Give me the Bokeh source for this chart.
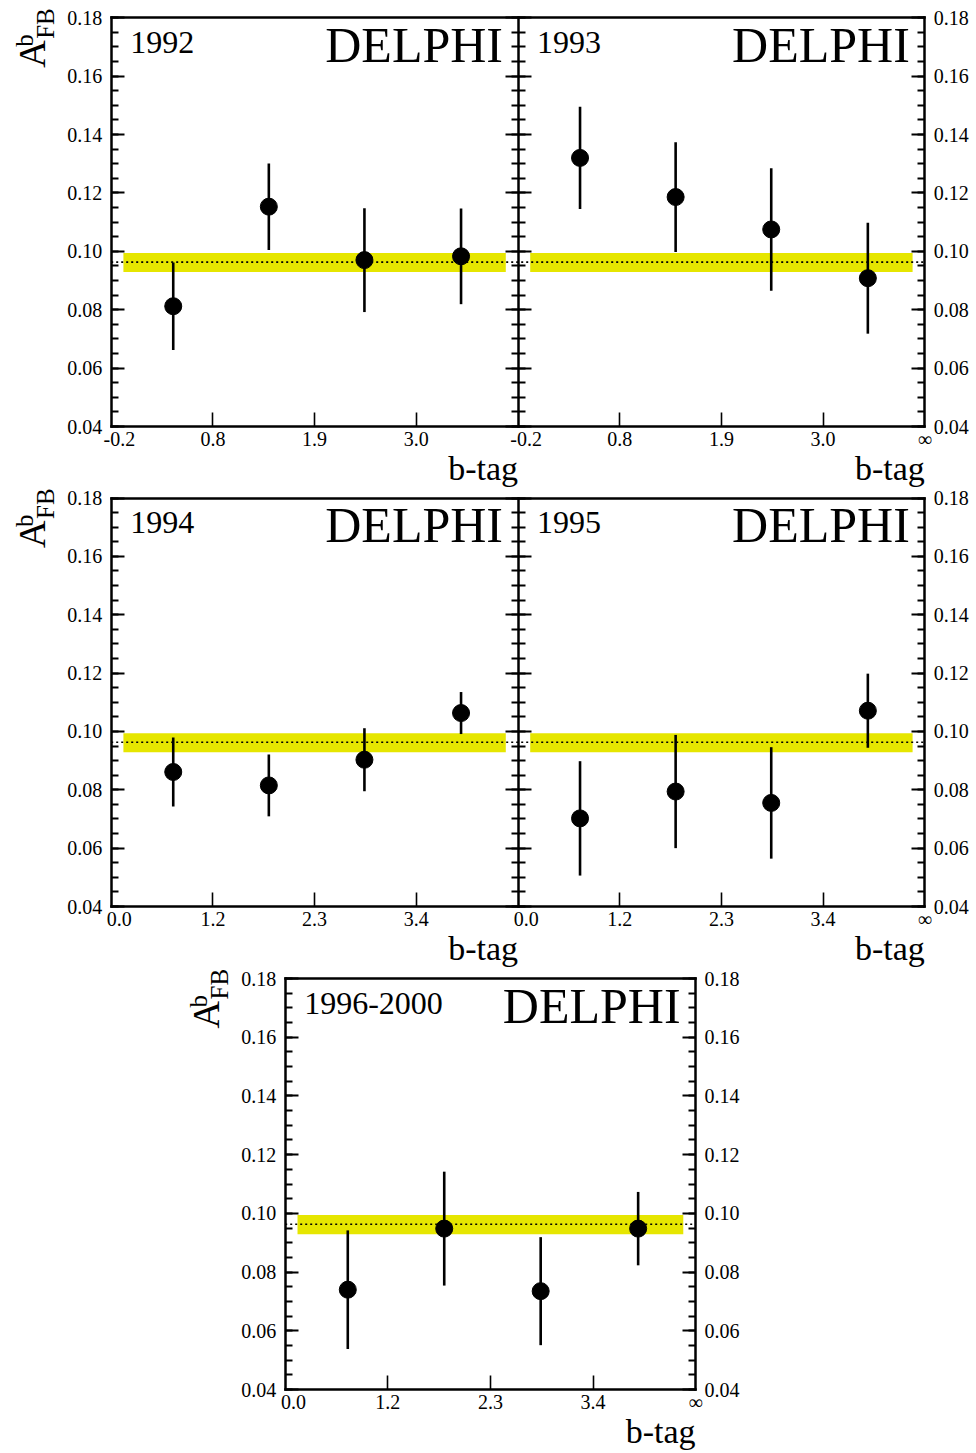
import math
from bokeh.plotting import figure
from bokeh.models import (Range1d, LinearAxis, FixedTicker, Label,
                          NumeralTickFormatter, CustomJSTickFormatter)
from bokeh.layouts import column
from bokeh.embed import file_html
from bokeh.resources import INLINE

# ---------------- data ----------------
bin_pos = [0.61, 1.55, 2.49, 3.44]          # point position inside the 4 b-tag bins

afb_1992 = [0.0812, 0.1153, 0.0970, 0.0983]
err_1992 = [0.0150, 0.0148, 0.0178, 0.0164]
afb_1993 = [0.1320, 0.1186, 0.1075, 0.0908]
err_1993 = [0.0175, 0.0188, 0.0210, 0.0190]
afb_1994 = [0.0861, 0.0815, 0.0903, 0.1063]
err_1994 = [0.0118, 0.0106, 0.0108, 0.0072]
afb_1995 = [0.0702, 0.0794, 0.0755, 0.1071]
err_1995 = [0.0196, 0.0194, 0.0191, 0.0127]
afb_9600 = [0.0740, 0.0948, 0.0735, 0.0948]
err_9600 = [0.0202, 0.0194, 0.0184, 0.0125]

edges_9293 = ["-0.2", "0.8", "1.9", "3.0", "\u221e"]
edges_9400 = ["0.0", "1.2", "2.3", "3.4", "\u221e"]

band_lo, band_hi = 0.0929, 0.0994     # yellow band
ref_line = 0.0963                     # dotted line
band_x = [0.12, 3.88]

Y0, Y1 = 0.04, 0.18
y_ticks = [0.04, 0.06, 0.08, 0.10, 0.12, 0.14, 0.16, 0.18]
y_minor = [round(0.04 + 0.005 * k, 3) for k in range(29)]

FONT = "Liberation Serif"
BAND = "#e6e600"
LW = 2.5
TICK_FS = "20px"


def style_y(ax, tick_out=0, minor_out=0):
    ax.axis_line_color = "black"
    ax.axis_line_width = LW
    ax.axis_line_cap = "square"
    ax.major_tick_in = 13
    ax.major_tick_out = tick_out
    ax.minor_tick_in = 7
    ax.minor_tick_out = minor_out
    ax.major_tick_line_width = 2
    ax.minor_tick_line_width = 2
    ax.major_tick_line_color = "black"
    ax.minor_tick_line_color = "black"
    ax.major_label_text_font = FONT
    ax.major_label_text_font_size = TICK_FS
    ax.major_label_text_color = "black"
    ax.major_label_standoff = 9


def style_x(ax, tick_in, line=True, standoff=5):
    ax.axis_line_color = "black" if line else None
    ax.axis_line_width = LW
    ax.axis_line_cap = "square"
    ax.major_tick_in = tick_in
    ax.major_tick_out = 0
    ax.minor_tick_line_color = None
    ax.major_tick_line_width = 1.6
    ax.major_tick_line_color = "black"
    ax.major_label_text_font = FONT
    ax.major_label_text_font_size = TICK_FS
    ax.major_label_text_color = "black"
    ax.major_label_standoff = standoff


def make_row(panels, edges, fig_w, fig_h, x0_px, unit_px, ytop_px, ybot_px, btag_off):
    n = len(panels)
    xr = Range1d(-x0_px / unit_px, (fig_w - x0_px) / unit_px)
    ys = (ybot_px - ytop_px) / (Y1 - Y0)
    yr = Range1d(Y0 - (fig_h - ybot_px) / ys, Y1 + ytop_px / ys)
    p = figure(x_range=xr, y_range=yr, width=fig_w, height=fig_h,
               min_border=0, min_border_left=0, min_border_right=0,
               min_border_top=0, min_border_bottom=0,
               x_axis_type=None, y_axis_type=None,
               output_backend="svg", toolbar_location=None)
    p.outline_line_color = None
    p.background_fill_color = "white"
    p.border_fill_color = "white"

    ticker = FixedTicker(ticks=y_ticks, minor_ticks=y_minor)
    fmt = NumeralTickFormatter(format="0.00")
    yl = LinearAxis(ticker=ticker, formatter=fmt, fixed_location=0, bounds=(Y0, Y1))
    style_y(yl)
    p.add_layout(yl, "left")
    yr_ax = LinearAxis(ticker=ticker, formatter=fmt, fixed_location=4 * n, bounds=(Y0, Y1))
    style_y(yr_ax)
    p.add_layout(yr_ax, "right")
    for i in range(1, n):
        ym = LinearAxis(ticker=ticker, fixed_location=4 * i, bounds=(Y0, Y1),
                        formatter=CustomJSTickFormatter(code="return ''"))
        style_y(ym, tick_out=13, minor_out=7)
        p.add_layout(ym, "left")

    # x axes: inner tick marks with labels, plus edge labels without ticks
    inner_ticks, inner_over = [], {}
    edge_ticks, edge_over = [], {}
    for i in range(n):
        for k in range(1, 4):
            inner_ticks.append(4 * i + k)
            inner_over[4 * i + k] = edges[k]
        edge_ticks.append(4 * i + 0.08)
        edge_over[4 * i + 0.08] = edges[0]
    edge_ticks.append(4 * n)
    edge_over[4 * n] = edges[4]
    xa = LinearAxis(ticker=FixedTicker(ticks=inner_ticks), major_label_overrides=inner_over,
                    fixed_location=Y0, bounds=(0, 4 * n))
    style_x(xa, 14)
    p.add_layout(xa, "below")
    xb = LinearAxis(ticker=FixedTicker(ticks=edge_ticks), major_label_overrides=edge_over,
                    fixed_location=Y0, bounds=(0, 4 * n))
    style_x(xb, 0, line=False, standoff=1)
    p.add_layout(xb, "below")
    xt = LinearAxis(ticker=FixedTicker(ticks=[]), fixed_location=Y1, bounds=(0, 4 * n))
    style_x(xt, 0)
    p.add_layout(xt, "above")

    # reference band and dotted line
    for i in range(n):
        p.quad(left=[4 * i + band_x[0]], right=[4 * i + band_x[1]],
               bottom=[band_lo], top=[band_hi], fill_color=BAND, line_color=None)
    p.segment(x0=[0], x1=[4 * n], y0=[ref_line], y1=[ref_line],
              line_color="black", line_width=1.6, line_dash="2 3")

    for i, (year, vals, errs) in enumerate(panels):
        xs = [4 * i + b for b in bin_pos]
        p.segment(x0=xs, x1=xs, y0=[v - e for v, e in zip(vals, errs)],
                  y1=[v + e for v, e in zip(vals, errs)], line_color="black", line_width=2.6)
        p.scatter(x=xs, y=vals, size=17, fill_color="black", line_color="black")

        p.add_layout(Label(x=4 * i, y=Y1, x_offset=19, y_offset=-24.5, text=year,
                           text_font=FONT, text_font_size="32px", text_color="black",
                           text_align="left", text_baseline="alphabetic"))
        p.add_layout(Label(x=4 * i + 4, y=Y1, x_offset=-15, y_offset=-27, text="DELPHI",
                           text_font=FONT, text_font_size="50px", text_color="black",
                           text_align="right", text_baseline="alphabetic"))
        p.add_layout(Label(x=4 * i + 4, y=Y0, x_offset=0, y_offset=-btag_off, text="b-tag",
                           text_font=FONT, text_font_size="34px", text_color="black",
                           text_align="right", text_baseline="alphabetic"))

    # y axis title A^b_FB
    p.add_layout(Label(x=0, y=Y1, x_offset=-79, y_offset=-50, text="A", angle=math.pi / 2,
                       text_font=FONT, text_font_size="38px", text_color="black",
                       text_align="left", text_baseline="alphabetic"))
    p.add_layout(Label(x=0, y=Y1, x_offset=-87, y_offset=-29, text="b", angle=math.pi / 2,
                       text_font=FONT, text_font_size="25px", text_color="black",
                       text_align="left", text_baseline="alphabetic"))
    p.add_layout(Label(x=0, y=Y1, x_offset=-66, y_offset=-21, text="FB", angle=math.pi / 2,
                       text_font=FONT, text_font_size="25px", text_color="black",
                       text_align="left", text_baseline="alphabetic"))
    return p


p1 = make_row([("1992", afb_1992, err_1992), ("1993", afb_1993, err_1993)], edges_9293,
              976, 488, 110.7, 101.7, 17.3, 426.0, 42)
p2 = make_row([("1994", afb_1994, err_1994), ("1995", afb_1995, err_1995)], edges_9400,
              976, 480, 110.7, 101.7, 9.5, 418.0, 42)
p3 = make_row([("1996-2000", afb_9600, err_9600)], edges_9400,
              976, 485, 284.7, 102.6, 10.0, 421.0, 42)

layout = column(p1, p2, p3, spacing=0)
open("out.html", "w").write(file_html(layout, INLINE))
